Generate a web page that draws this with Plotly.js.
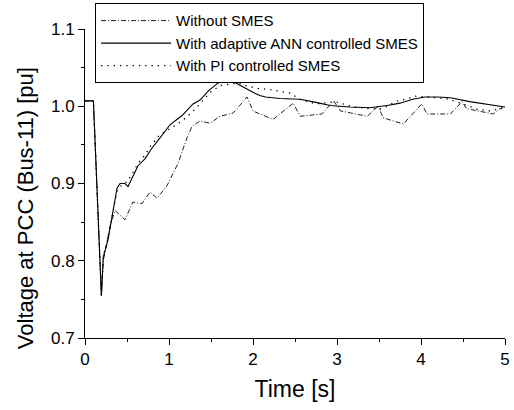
<!DOCTYPE html>
<html>
<head>
<meta charset="utf-8">
<script src="https://cdn.plot.ly/plotly-3.0.1.min.js"></script>
<style>html,body{margin:0;padding:0;background:#fff;}#chart{width:514px;height:410px;}</style>
</head>
<body>
<div id="chart"></div>
<script>
// Without SMES (dash-dot)
const tNo = [0, 0.1, 0.195, 0.218, 0.3, 0.357, 0.44, 0.476, 0.571, 0.68, 0.774, 0.857, 0.976, 1.107, 1.214, 1.274, 1.369, 1.488, 1.607, 1.762, 1.93, 2.0, 2.06, 2.24, 2.48, 2.56, 2.82, 2.96, 3.04, 3.36, 3.49, 3.55, 3.79, 4.01, 4.07, 4.35, 4.49, 4.54, 4.86, 4.98, 5.0];
const vNo = [1.007, 1.007, 0.755, 0.800, 0.846, 0.865, 0.857, 0.853, 0.876, 0.874, 0.889, 0.881, 0.897, 0.926, 0.959, 0.974, 0.981, 0.978, 0.987, 0.991, 1.012, 0.994, 0.991, 0.983, 1.004, 0.987, 0.990, 1.007, 0.994, 0.987, 1.000, 0.985, 0.977, 1.003, 0.990, 0.990, 1.006, 0.997, 0.990, 1.000, 1.000];

// With adaptive ANN controlled SMES (solid)
const tAnn = [0, 0.1, 0.195, 0.218, 0.274, 0.333, 0.381, 0.417, 0.476, 0.512, 0.571, 0.631, 0.714, 0.798, 0.893, 1.012, 1.155, 1.286, 1.369, 1.47, 1.57, 1.63, 1.7, 1.78, 1.85, 1.93, 2.0, 2.08, 2.15, 2.32, 2.56, 2.75, 2.92, 3.15, 3.39, 3.6, 3.75, 3.9, 4.05, 4.2, 4.35, 4.58, 4.8, 5.0];
const vAnn = [1.007, 1.007, 0.755, 0.805, 0.827, 0.865, 0.894, 0.900, 0.900, 0.896, 0.910, 0.923, 0.932, 0.946, 0.959, 0.976, 0.988, 1.003, 1.008, 1.020, 1.029, 1.032, 1.033, 1.031, 1.027, 1.022, 1.018, 1.014, 1.012, 1.010, 1.009, 1.005, 1.001, 0.999, 0.998, 1.001, 1.004, 1.009, 1.012, 1.012, 1.011, 1.006, 1.002, 0.999];

// With PI controlled SMES (dotted)
const tPi = [0, 0.1, 0.195, 0.218, 0.274, 0.333, 0.381, 0.45, 0.5, 0.57, 0.63, 0.71, 0.77, 0.88, 1.1, 1.21, 1.31, 1.39, 1.49, 1.61, 1.82, 1.94, 2.06, 2.18, 2.32, 2.44, 2.56, 2.75, 2.98, 3.2, 3.5, 3.6, 3.69, 3.81, 3.93, 4.1, 4.3, 4.5, 4.67, 4.82, 5.0];
const vPi = [1.007, 1.007, 0.755, 0.805, 0.830, 0.865, 0.890, 0.900, 0.902, 0.914, 0.926, 0.936, 0.947, 0.962, 0.977, 0.986, 0.996, 1.006, 1.018, 1.027, 1.030, 1.026, 1.023, 1.022, 1.019, 1.017, 1.009, 1.003, 1.006, 0.999, 0.996, 1.000, 1.006, 1.009, 1.013, 1.012, 1.010, 1.003, 0.996, 0.994, 0.998];

const names = ["Without SMES", "With adaptive ANN controlled SMES", "With PI controlled SMES"];
const xTicks = [0, 1, 2, 3, 4, 5];
const yTicks = [0.7, 0.8, 0.9, 1.0, 1.1];

const traces = [
  {x: tNo, y: vNo, name: names[0], mode: "lines", line: {color: "#222", width: 1, dash: "5px,2px,1px,2px"}},
  {x: tAnn, y: vAnn, name: names[1], mode: "lines", line: {color: "#000", width: 1.1}},
  {x: tPi, y: vPi, name: names[2], mode: "lines", line: {color: "#000", width: 1.3, dash: "1.3px,5px"}}
];

const font = "Liberation Sans, Arial, sans-serif";
const layout = {
  width: 514, height: 410,
  margin: {l: 85, r: 9, t: 29, b: 72, autoexpand: false},
  paper_bgcolor: "#fff", plot_bgcolor: "#fff",
  font: {family: font, color: "#000", size: 15},
  showlegend: true,
  legend: {
    x: 0.024, y: 1.083, xanchor: "left", yanchor: "top",
    bgcolor: "#fff", bordercolor: "#000", borderwidth: 1,
    font: {family: font, size: 15, color: "#000"},
    tracegroupgap: 0, itemwidth: 70
  },
  xaxis: {
    range: [0, 5], tickvals: xTicks, ticktext: xTicks.map(String),
    showline: true, linecolor: "#000", linewidth: 1, mirror: false,
    ticks: "outside", ticklen: 6, tickwidth: 1, tickcolor: "#000",
    minor: {dtick: 0.5, ticks: "outside", ticklen: 3, tickcolor: "#000", showgrid: false},
    showgrid: false, zeroline: false,
    tickfont: {size: 17},
    title: {text: "Time [s]", font: {size: 23}, standoff: 12}
  },
  yaxis: {
    range: [0.7, 1.1], tickvals: yTicks, ticktext: yTicks.map(v => v.toFixed(1)),
    showline: true, linecolor: "#000", linewidth: 1, mirror: false,
    ticks: "outside", ticklen: 6, tickwidth: 1, tickcolor: "#000",
    minor: {dtick: 0.05, ticks: "outside", ticklen: 3, tickcolor: "#000", showgrid: false},
    showgrid: false, zeroline: false,
    tickfont: {size: 17}
  },
  annotations: [{
    text: "Voltage at PCC (Bus-11) [pu]", textangle: -90,
    xref: "paper", yref: "paper", x: -0.143, y: 0.42,
    xanchor: "center", yanchor: "middle", showarrow: false,
    font: {size: 22, family: font, color: "#000"}
  }]
};

Plotly.newPlot("chart", traces, layout, {displayModeBar: false, staticPlot: true});
</script>
</body>
</html>
